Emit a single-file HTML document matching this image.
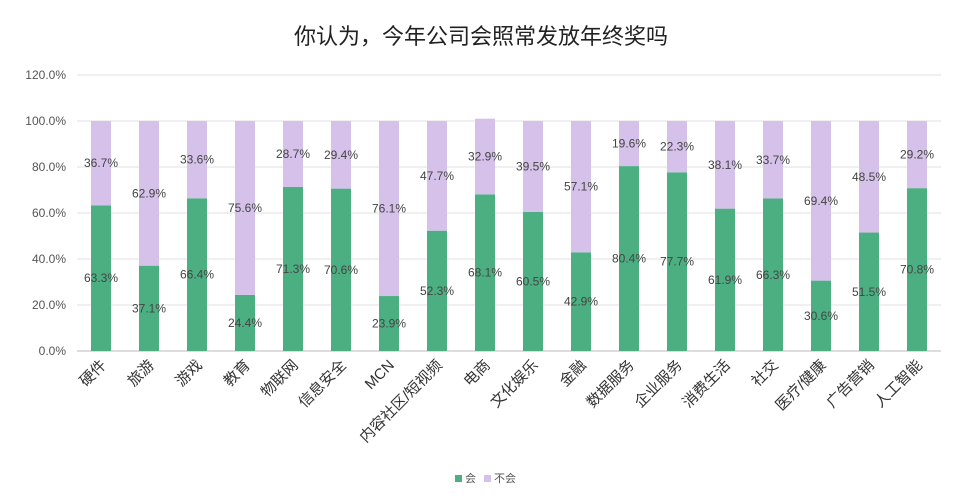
<!DOCTYPE html>
<html><head><meta charset="utf-8"><style>
body{margin:0;background:#fff;}
svg{display:block;font-family:"Liberation Sans","Noto Sans CJK SC",sans-serif;}
</style></head><body>
<svg id="chart" width="963" height="503">
<text x="481" y="44" text-anchor="middle" font-size="22" fill="#222">你认为，今年公司会照常发放年终奖吗</text>
<g id="grid"></g><g id="bars"></g><g id="xlabels"></g>
<g>
<rect x="455" y="475" width="7" height="7" fill="#4caf82"/>
<text x="465" y="482" font-size="11" fill="#555">会</text>
<rect x="484" y="475" width="7" height="7" fill="#d5c1ea"/>
<text x="494" y="482" font-size="11" fill="#555">不会</text>
</g>
</svg>
<script>
const categories=["硬件","旅游","游戏","教育","物联网","信息安全","MCN","内容社区/短视频","电商","文化娱乐","金融","数据服务","企业服务","消费生活","社交","医疗/健康","广告营销","人工智能"];
const yesValues=[63.3,37.1,66.4,24.4,71.3,70.6,23.9,52.3,68.1,60.5,42.9,80.4,77.7,61.9,66.3,30.6,51.5,70.8];
const noValues=[36.7,62.9,33.6,75.6,28.7,29.4,76.1,47.7,32.9,39.5,57.1,19.6,22.3,38.1,33.7,69.4,48.5,29.2];
const yTicks=[0,20,40,60,80,100,120];
const NS="http://www.w3.org/2000/svg";
const x0=77,x1=941,y0=351,yTop=75,bw=20;
const yScale=v=>y0-(v/120)*(y0-yTop);
const step=(x1-x0)/categories.length;
const xCenter=i=>x0+step*(i+0.5);
function mk(tag,attrs,parent){const e=document.createElementNS(NS,tag);for(const k in attrs)e.setAttribute(k,attrs[k]);parent.appendChild(e);return e;}
const grid=document.getElementById('grid'),bars=document.getElementById('bars'),xl=document.getElementById('xlabels');
yTicks.forEach(t=>{
 const l=mk('line',{x1:x0,x2:x1,y1:yScale(t),y2:yScale(t),stroke:t===0?'#bbb':'#e0e0e0','stroke-width':1},grid);
 
 
 const tx=mk('text',{x:66,y:yScale(t)+4,'text-anchor':'end','font-size':12,fill:'#555'},grid);
 tx.textContent=t.toFixed(1)+'%';
 
 
});
categories.forEach((c,i)=>{
 const cx=xCenter(i),yv=yesValues[i],nv=noValues[i];
 const yTopYes=yScale(yv),yTopNo=yScale(yv+nv);
 const r1=mk('rect',{x:cx-bw/2,y:yTopYes,width:bw,height:y0-yTopYes,fill:'#4caf82'},bars);
 
 
 const r2=mk('rect',{x:cx-bw/2,y:yTopNo,width:bw,height:yTopYes-yTopNo,fill:'#d5c1ea'},bars);
 
 
 const t1=mk('text',{x:cx,y:(y0+yTopYes)/2+4,'text-anchor':'middle','font-size':12,fill:'#444'},bars);
 t1.textContent=yv.toFixed(1)+'%';
 
 
 const t2=mk('text',{x:cx,y:(yTopYes+yTopNo)/2+4,'text-anchor':'middle','font-size':12,fill:'#444'},bars);
 t2.textContent=nv.toFixed(1)+'%';
 
 
 const lx=cx+6,ly=366;
 const t3=mk('text',{x:lx,y:ly,'text-anchor':'end','font-size':15,fill:'#333',transform:`rotate(-45 ${lx} ${ly})`},xl);
 t3.textContent=c;
 
 
});
</script>
</body></html>
